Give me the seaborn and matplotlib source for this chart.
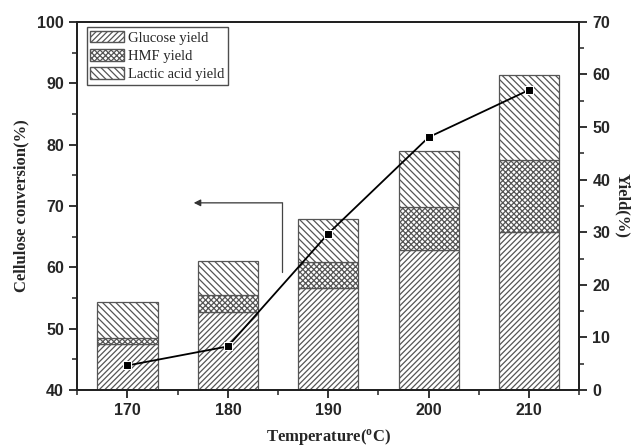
import numpy as np
import matplotlib
matplotlib.use("Agg")
from matplotlib import pyplot as plt
from matplotlib.patches import Patch
from matplotlib.ticker import MultipleLocator
import seaborn as sns

temps = [170, 180, 190, 200, 210]
glucose_yield = [8.7, 14.9, 19.4, 26.6, 30.1]
hmf_yield = [1.2, 3.1, 4.9, 8.2, 13.6]
lactic_yield = [6.8, 6.6, 8.2, 10.7, 16.1]
conversion = [44.0, 47.1, 65.5, 81.2, 88.9]

sns.set_style("ticks")
plt.rcParams["font.family"] = ["Liberation Sans", "DejaVu Sans"]
plt.rcParams["hatch.linewidth"] = 0.9

serif = "Liberation Serif"
edge = "#555555"

fig, ax = plt.subplots(figsize=(6.44, 4.46), dpi=100)
fig.subplots_adjust(left=0.12, right=0.8995, top=0.951, bottom=0.1256)

glucose = np.array(glucose_yield)
hmf = np.array(hmf_yield)
lactic = np.array(lactic_yield)

# stacked bars on the yield scale (shown on the right)
sns.barplot(x=temps, y=glucose, color="white", edgecolor=edge, linewidth=0.9,
            hatch="//////", width=0.6, ax=ax)
sns.barplot(x=temps, y=hmf, bottom=glucose, color="white", edgecolor=edge,
            linewidth=0.9, hatch="xxxxxx", width=0.6, ax=ax)
sns.barplot(x=temps, y=lactic, bottom=glucose + hmf, color="white",
            edgecolor=edge, linewidth=0.9, hatch="\\\\\\\\\\", width=0.6, ax=ax)

ax.set_xlim(-0.5, 4.5)
ax.set_ylim(0, 70)
ax.yaxis.set_major_locator(MultipleLocator(10))
ax.yaxis.set_minor_locator(MultipleLocator(5))
ax.xaxis.set_minor_locator(MultipleLocator(0.5))
ax.set_xlabel("Temperature($\\mathregular{^oC}$)", fontsize=12,
              fontweight="bold", family=serif, labelpad=6)

# conversion line on the left scale
ax2 = ax.twinx()
sns.lineplot(x=np.arange(len(temps)), y=conversion, color="black",
             marker="s", markersize=6, linewidth=1.3, ax=ax2)
ax2.set_ylim(40, 100)
ax2.yaxis.tick_left()
ax2.yaxis.set_label_position("left")
ax2.yaxis.set_major_locator(MultipleLocator(10))
ax2.yaxis.set_minor_locator(MultipleLocator(5))
ax2.set_ylabel("Cellulose conversion(%)", fontsize=12, fontweight="bold",
               family=serif, labelpad=6)

# twinx puts the host ticks on the left, move them back to the right
ax.yaxis.tick_right()
ax.yaxis.set_label_position("right")
ax.set_ylabel("Yield(%)", rotation=270, labelpad=14, fontsize=12,
              fontweight="bold", family=serif)

# arrow pointing to the left axis
ax2.plot([1.54, 1.54], [59.3, 70.5], color="#444444", lw=0.9)
ax2.annotate("", xy=(0.66, 70.5), xytext=(1.545, 70.5),
             arrowprops=dict(arrowstyle="-|>", color="#333333", lw=0.9,
                             mutation_scale=10, shrinkA=0, shrinkB=0))

for a in (ax, ax2):
    for s in a.spines.values():
        s.set_linewidth(1.4)
        s.set_color("#222222")
    a.tick_params(which="major", direction="out", length=6, width=1.3,
                  labelsize=11.5, color="#222222")
    a.tick_params(which="minor", direction="out", length=3.5, width=1.1,
                  color="#222222")
    for lab in a.get_xticklabels() + a.get_yticklabels():
        lab.set_fontweight("bold")

handles = [
    Patch(facecolor="white", edgecolor=edge, hatch="//////", label="Glucose yield"),
    Patch(facecolor="white", edgecolor=edge, hatch="xxxxxx", label="HMF yield"),
    Patch(facecolor="white", edgecolor=edge, hatch="\\\\\\\\\\", label="Lactic acid yield"),
]
leg = ax2.legend(handles=handles, loc="upper left", bbox_to_anchor=(0.019, 0.986),
                 borderaxespad=0, frameon=True, fancybox=False, handlelength=2.3,
                 handleheight=0.85, handletextpad=0.3, labelspacing=0.3,
                 borderpad=0.25, prop={"family": serif, "size": 10.5})
leg.get_frame().set_edgecolor("#222222")
leg.get_frame().set_linewidth(1.0)

fig.savefig("out.png", dpi=100)
